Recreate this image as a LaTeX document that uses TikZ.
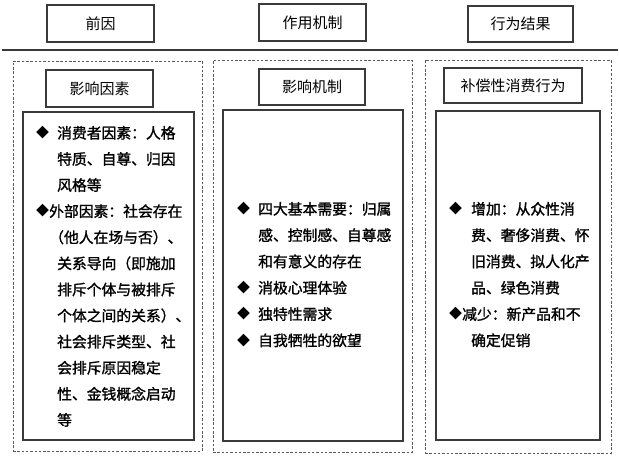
\documentclass[tikz,border=0pt]{standalone}
\usepackage{fontspec}
\newfontfamily\cjk{Noto Sans CJK SC}
\newfontfamily\cjkb[FakeBold=1.3]{Noto Sans CJK SC}
\definecolor{boxline}{HTML}{3A3A3A}
\definecolor{dashline}{HTML}{5A5A5A}
\begin{document}
\begin{tikzpicture}[x=1pt,y=-1pt,
  hbox/.style={draw=boxline, line width=1.1pt, rectangle, inner sep=0pt, font=\cjk\fontsize{15}{17}\selectfont},
  dbox/.style={draw=dashline, line width=0.8pt, dash pattern=on 2.5pt off 1.8pt, rectangle, inner sep=0pt},
  ibox/.style={draw=boxline, line width=1.1pt, rectangle, inner sep=0pt},
  txt/.style={anchor=base west, inner sep=0pt, font=\cjkb\fontsize{14.8}{17}\selectfont},
  bul/.style={anchor=center, inner sep=0pt, font=\cjk\fontsize{13}{15}\selectfont}]
\useasboundingbox[fill=white] (0,0) rectangle (619,456);
% headers
\node[hbox, minimum width=107pt, minimum height=37pt] (h1) at (100.5,23.5) {前因};
\node[hbox, minimum width=107pt, minimum height=37pt] (h2) at (312.5,22.5) {作用机制};
\node[hbox, minimum width=105pt, minimum height=36pt] (h3) at (520.5,24) {行为结果};
\coordinate (l1) at (2,50);
\coordinate (l2) at (618,50);
\draw[draw=boxline, line width=1.4pt] (l1) -- (l2);
% dashed columns
\node[dbox, minimum width=189pt, minimum height=390pt] (d1) at (107.5,256) {};
\node[dbox, minimum width=199pt, minimum height=392pt] (d2) at (312.5,256) {};
\node[dbox, minimum width=186pt, minimum height=393pt] (d3) at (518,256.5) {};
% sub headers
\node[hbox, minimum width=107pt, minimum height=37pt] (s1) at (99.5,88.5) {影响因素};
\node[hbox, minimum width=106pt, minimum height=36pt] (s2) at (312,87) {影响机制};
\node[hbox, minimum width=138pt, minimum height=35pt] (s3) at (513,85.5) {补偿性消费行为};
% inner boxes
\node[ibox, minimum width=171pt, minimum height=328pt] (b1) at (108.5,276) {};
\node[ibox, minimum width=180pt, minimum height=331pt] (b2) at (313,275.5) {};
\node[ibox, minimum width=164pt, minimum height=329pt] (b3) at (518,275.5) {};
% left text
\node[bul] (lb1) at (42.5,133) {◆};
\node[txt] (lt1) at (57,138.5) {消费者因素：人格};
\node[txt] (lt2) at (57,164.6) {特质、自尊、归因};
\node[txt] (lt3) at (57,190.7) {风格等};
\node[bul] (lb2) at (42.5,211) {◆};
\node[txt] (lt4) at (49,216.8) {外部因素：社会存在};
\node[txt] (lt5) at (49,242.9) {（他人在场与否）、};
\node[txt] (lt6) at (57,269.0) {关系导向（即施加};
\node[txt] (lt7) at (57,295.1) {排斥个体与被排斥};
\node[txt] (lt8) at (57,321.2) {个体之间的关系）、};
\node[txt] (lt9) at (57,347.3) {社会排斥类型、社};
\node[txt] (lt10) at (57,373.4) {会排斥原因稳定};
\node[txt] (lt11) at (57,399.5) {性、金钱概念启动};
\node[txt] (lt12) at (57,425.6) {等};
% middle text
\node[bul] (mb1) at (243.5,209) {◆};
\node[txt] (mt1) at (258,214.5) {四大基本需要：归属};
\node[txt] (mt2) at (258,240.8) {感、控制感、自尊感};
\node[txt] (mt3) at (258,267.1) {和有意义的存在};
\node[bul] (mb2) at (243.5,288) {◆};
\node[txt] (mt4) at (258,293.4) {消极心理体验};
\node[bul] (mb3) at (243.5,314) {◆};
\node[txt] (mt5) at (258,319.7) {独特性需求};
\node[bul] (mb4) at (243.5,341) {◆};
\node[txt] (mt6) at (258,346.0) {自我牺牲的欲望};
% right text
\node[bul] (rb1) at (455.5,209) {◆};
\node[txt] (rt1) at (471,214.5) {增加：从众性消};
\node[txt] (rt2) at (471,240.8) {费、奢侈消费、怀};
\node[txt] (rt3) at (471,267.1) {旧消费、拟人化产};
\node[txt] (rt4) at (471,293.4) {品、绿色消费};
\node[bul] (rb2) at (455.5,314) {◆};
\node[txt] (rt5) at (462,319.7) {减少：新产品和不};
\node[txt] (rt6) at (471,346.0) {确定促销};
\end{tikzpicture}
\end{document}
